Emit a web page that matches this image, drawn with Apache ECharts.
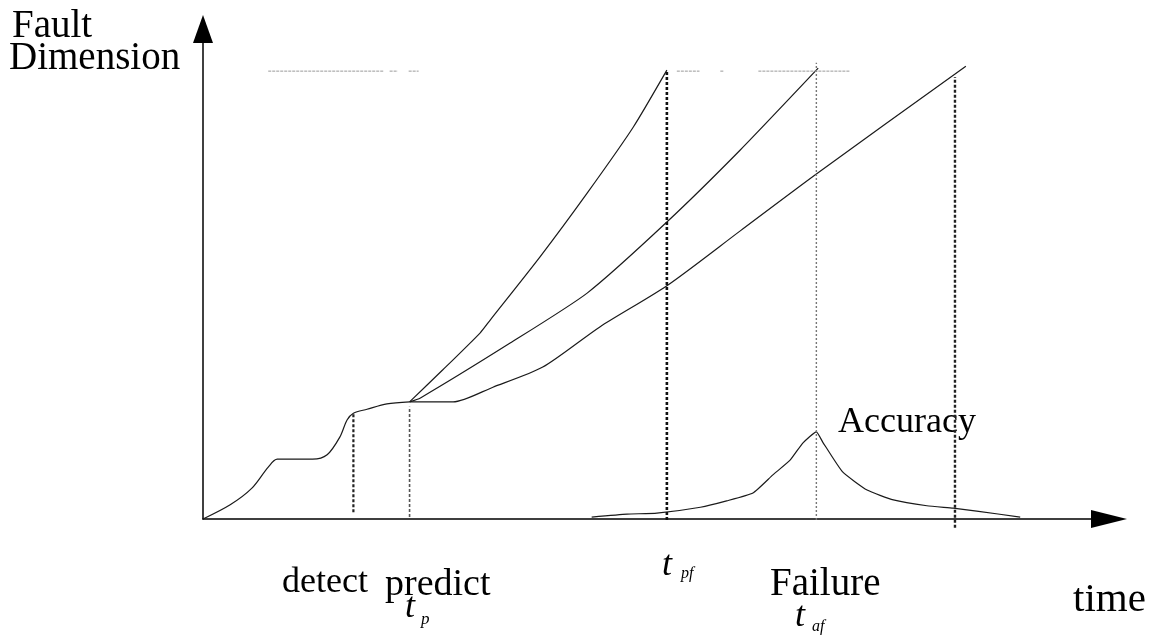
<!DOCTYPE html>
<html>
<head>
<meta charset="utf-8">
<title>Fault dimension vs time</title>
<script src="https://cdn.jsdelivr.net/npm/echarts@6/dist/echarts.min.js"></script>
<style>
  html, body { margin: 0; padding: 0; background: #fff; }
  #chartDiv { width: 1158px; height: 637px; }
</style>
</head>
<body>
<div id="chartDiv"></div>
<script>
// fault growth before prediction (time, dimension)
var faultX = [0, 3, 5.4, 7.2, 8.2, 12.1, 13.7, 15.1, 15.9, 16.6, 18.1, 20.3, 22.8];
var faultY = [0, 2.9, 6.3, 10.6, 12.2, 12.2, 13.1, 16.7, 20.2, 21.6, 22.4, 23.5, 23.9];
// three predicted trajectories after t_p
var fastX = [22.8, 26.5, 30.6, 31.7, 37.2, 42.4, 47.5, 51.2];
var fastY = [23.9, 30.5, 38.0, 40.6, 53.5, 66.5, 80.0, 91.6];
var midX = [22.8, 24.0, 33.9, 42.4, 51.2, 59.3, 67.9];
var midY = [23.9, 24.7, 35.9, 46.1, 60.6, 75.3, 92.0];
var slowX = [22.8, 27.6, 32.0, 37.5, 43.8, 51.2, 59.3, 67.7, 84.2];
var slowY = [23.9, 23.9, 26.9, 31.0, 39.2, 47.6, 58.8, 70.4, 92.4];
// accuracy bump around the failure time
var accX = [42.9, 46.8, 50.1, 54.9, 57.8, 60.7, 62.9, 64.8, 66.2, 67.7, 68.4, 70.6, 73.3, 76.2, 79.9, 82.8, 85.4, 90.2];
var accY = [0.4, 1.0, 1.2, 2.4, 3.7, 5.3, 9.0, 12.0, 15.5, 17.8, 15.7, 9.6, 5.9, 3.9, 2.7, 2.2, 1.6, 0.4];
// vertical markers: detect, predict, t_pf, failure, late prediction
var markX = [16.6, 22.8, 51.2, 67.7, 83.0];
var markTop = [21.6, 22.9, 91.6, 93.1, 90.2];
var markBottom = [1.4, 0.4, -0.2, -0.2, -1.8];
// failure threshold (faint dotted line)
var thresholdY = 91.4;
var thresholdSegs = [[7.2, 19.9], [20.6, 21.5], [22.7, 23.8], [52.3, 54.8], [57.1, 57.5], [61.3, 71.4]];

function pairs(xs, ys) {
	return xs.map(function(x, i) { return [x, ys[i]]; });
}

var serif = '"Liberation Serif", "DejaVu Serif", serif';
var curveStyle = { color: '#1a1a1a', width: 1.2 };
var series = [];

function addCurve(xs, ys, smooth) {
	series.push({
		type: 'line', data: pairs(xs, ys), showSymbol: false, smooth: smooth,
		lineStyle: curveStyle, silent: true, clip: false
	});
}
addCurve(faultX, faultY, 0.3);
addCurve(fastX, fastY, 0.2);
addCurve(midX, midY, 0.2);
addCurve(slowX, slowY, 0.25);
addCurve(accX, accY, 0.15);

var markStyles = [
	{ color: '#222', width: 2.2, type: [3, 2] },
	{ color: '#555', width: 1.6, type: [3, 2] },
	{ color: '#111', width: 2.6, type: [3, 2] },
	{ color: '#777', width: 1.4, type: [2, 2] },
	{ color: '#222', width: 2.4, type: [3, 2] }
];
markX.forEach(function(x, i) {
	series.push({
		type: 'line', data: [[x, markBottom[i]], [x, markTop[i]]], showSymbol: false,
		lineStyle: markStyles[i], silent: true, clip: false
	});
});
thresholdSegs.forEach(function(s) {
	series.push({
		type: 'line', data: [[s[0], thresholdY], [s[1], thresholdY]], showSymbol: false,
		lineStyle: { color: '#999', width: 1, type: [3, 1] }, silent: true
	});
});

function label(text, x, y, size, italic) {
	return {
		type: 'text', left: x, top: y,
		style: {
			text: text, fill: '#000',
			font: (italic ? 'italic ' : '') + size + 'px ' + serif
		}
	};
}

var chart = echarts.init(document.getElementById('chartDiv'));
chart.setOption({
	animation: false,
	backgroundColor: '#fff',
	grid: { left: 203, right: 49, top: 29, bottom: 118, outerBoundsMode: 'none' },
	xAxis: {
		type: 'value', min: 0, max: 100,
		axisLine: { onZero: false, symbol: ['none', 'triangle'], symbolSize: [18, 36],
			lineStyle: { color: '#000', width: 1.5 } },
		axisTick: { show: false }, axisLabel: { show: false }, splitLine: { show: false }
	},
	yAxis: {
		type: 'value', min: 0, max: 100,
		axisLine: { onZero: false, symbol: ['none', 'triangle'], symbolSize: [20, 28],
			lineStyle: { color: '#000', width: 1.5 } },
		axisTick: { show: false }, axisLabel: { show: false }, splitLine: { show: false }
	},
	series: series,
	graphic: [
		label('Fault', 12, 7, 39),
		label('Dimension', 9, 39, 39),
		label('Accuracy', 838, 405, 36),
		label('detect', 282, 565, 36),
		label('predict', 385, 566, 38),
		label('t', 405, 590, 36, true),
		label('p', 421, 611, 17, true),
		label('t', 662, 548, 36, true),
		label('pf', 681, 566, 16, true),
		label('Failure', 770, 565, 39),
		label('t', 795, 599, 36, true),
		label('af', 812, 619, 16, true),
		label('time', 1073, 580, 41)
	]
});
</script>
</body>
</html>
